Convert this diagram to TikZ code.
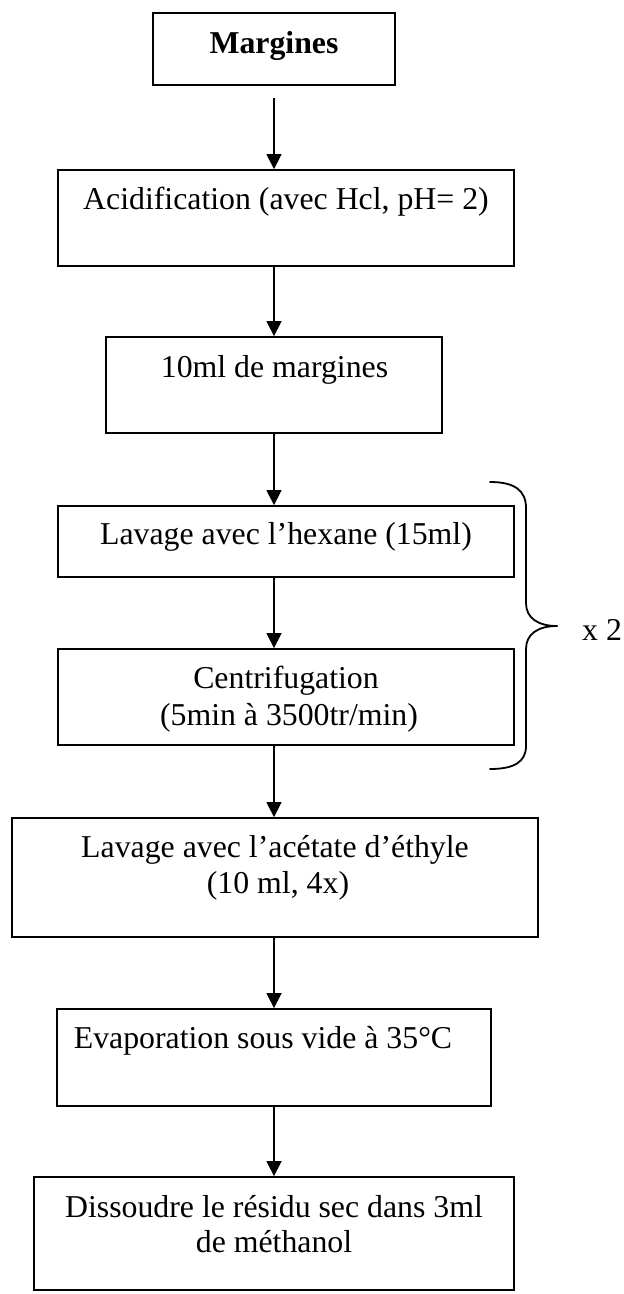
\documentclass[tikz,border=0pt]{standalone}
\usepackage{fontspec}
\setmainfont{Liberation Serif}
\usetikzlibrary{arrows.meta}
\begin{document}
\begin{tikzpicture}[x=1pt,y=-1pt,
  box/.style={draw,line width=1.8pt,rectangle,inner sep=0pt},
  lbl/.style={anchor=base,inner sep=0pt,font=\fontsize{31.8}{36}\selectfont},
  arr/.style={line width=1.5pt,-{Triangle[width=15pt,length=15pt]}},
  brace/.style={line width=1.8pt,line cap=round}]
\useasboundingbox (0,0) rectangle (624,1294);
\fill[white] (0,0) rectangle (624,1294);

% process boxes
\node[box,minimum width=242pt,minimum height=72pt]  (b1) at (274,49)    {};
\node[box,minimum width=456pt,minimum height=96pt]  (b2) at (286,218)   {};
\node[box,minimum width=336pt,minimum height=96pt]  (b3) at (274,385)   {};
\node[box,minimum width=456pt,minimum height=71pt]  (b4) at (286,541.5) {};
\node[box,minimum width=456pt,minimum height=96pt]  (b5) at (286,697)   {};
\node[box,minimum width=526pt,minimum height=119pt] (b6) at (275,877.5) {};
\node[box,minimum width=434pt,minimum height=97pt]  (b7) at (274,1057.5){};
\node[box,minimum width=480pt,minimum height=113pt] (b8) at (274,1233.5){};

% box texts
\node[lbl,font=\fontsize{31.8}{36}\selectfont\bfseries] (t1) at (274,53) {Margines};
\node[lbl] (t2)  at (286,209)  {Acidification (avec Hcl, pH= 2)};
\node[lbl] (t3)  at (274.5,377) {10ml de margines};
\node[lbl] (t4)  at (286,544)  {Lavage avec l’hexane (15ml)};
\node[lbl] (t5a) at (286,688)  {Centrifugation};
\node[lbl] (t5b) at (289,725)  {(5min à 3500tr/min)};
\node[lbl] (t6a) at (275,857)  {Lavage avec l’acétate d’éthyle};
\node[lbl] (t6b) at (278,893)  {(10 ml, 4x)};
\node[lbl] (t7)  at (263,1048) {Evaporation sous vide à 35°C};
\node[lbl] (t8a) at (274,1217) {Dissoudre le résidu sec dans 3ml};
\node[lbl] (t8b) at (274,1252) {de méthanol};

% connectors along the main axis
\coordinate (axis) at (274,0);
\draw[arr,shorten <=12pt] (axis |- b1.south) -- (axis |- b2.north);
\draw[arr] (axis |- b2.south) -- (axis |- b3.north);
\draw[arr] (axis |- b3.south) -- (axis |- b4.north);
\draw[arr] (axis |- b4.south) -- (axis |- b5.north);
\draw[arr] (axis |- b5.south) -- (axis |- b6.north);
\draw[arr] (axis |- b6.south) -- (axis |- b7.north);
\draw[arr] (axis |- b7.south) -- (axis |- b8.north);

% repetition brace around washing and centrifugation
\coordinate (bt) at (490,482);
\coordinate (tip) at (557,626);
\coordinate (bb) at (490,769);
\draw[brace] (bt) .. controls (514,482) and (526,490) .. (526,508)
  -- (526,603) .. controls (526,618) and (538,626) .. (tip);
\draw[brace] (tip) .. controls (538,626) and (526,634) .. (526,649)
  -- (526,746) .. controls (526,762) and (514,769) .. (bb);
\node[lbl,anchor=base west] (rep) at (582,640) {x 2};
\end{tikzpicture}
\end{document}
